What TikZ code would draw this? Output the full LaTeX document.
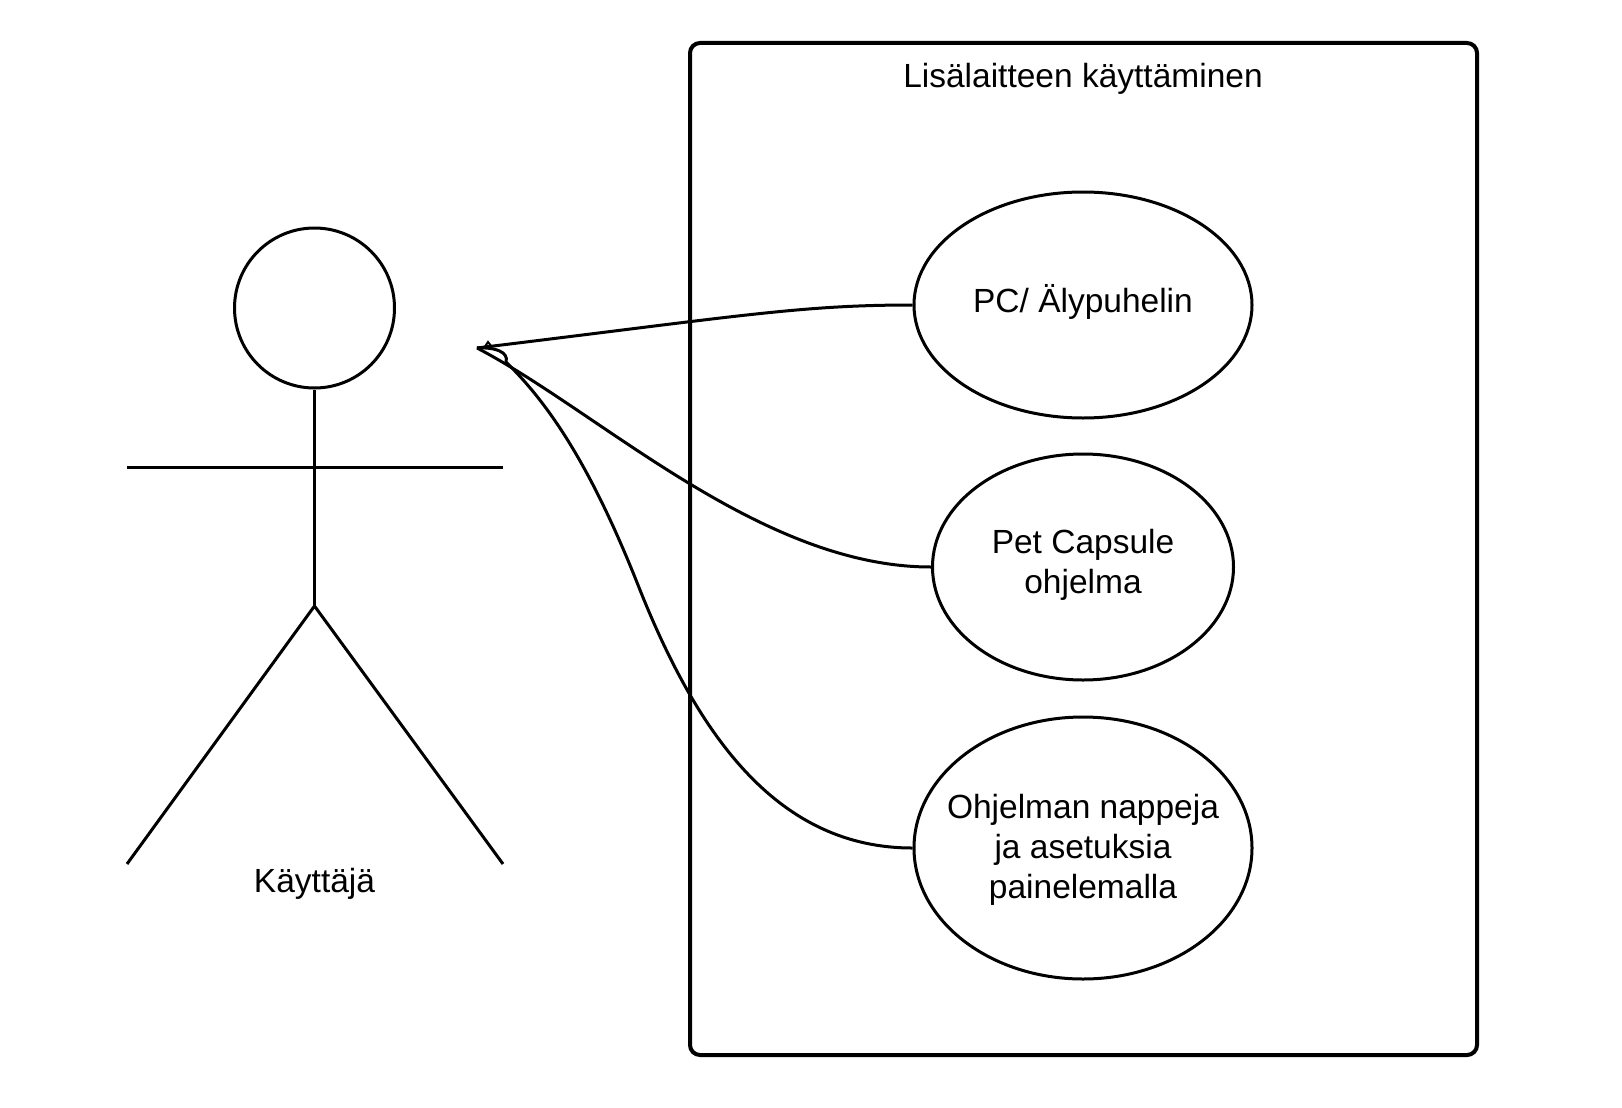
\documentclass[tikz,border=0pt]{standalone}
\usepackage{fontspec}
\setmainfont{Liberation Sans}
\usetikzlibrary{shapes.geometric}
\begin{document}
\begin{tikzpicture}[x=1pt,y=-1pt,
  usecase/.style={draw,ellipse,line width=3pt,inner sep=0pt},
  conn/.style={line width=3pt,line join=round},
  stick/.style={line width=3pt,line join=round},
  lbl/.style={font=\fontsize{33.5}{40}\selectfont,align=center,inner sep=0pt}]
\useasboundingbox (0,0) rectangle (1622,1108);
% system boundary
\draw[line width=4pt,rounded corners=10pt] (690,43) rectangle (1477,1055);
\node[lbl,anchor=base] (title) at (1083,88) {Lisälaitteen käyttäminen};
% actor
\node[draw,circle,line width=3pt,minimum size=160pt,inner sep=0pt] (head) at (314.5,308) {};
\coordinate (hip) at (314.5,606);
\draw[stick] (head.south) -- (hip);
\draw[stick] (127,467.5) -- (503,467.5);
\draw[stick] (127,864) -- (hip) -- (503,864);
\node[lbl,anchor=base] (actor) at (314.5,892.7) {Käyttäjä};
% use cases
\node[usecase,minimum width=338pt,minimum height=226pt] (e1) at (1083,305) {};
\node[usecase,minimum width=301pt,minimum height=226pt] (e2) at (1083,567) {};
\node[usecase,minimum width=338pt,minimum height=262pt] (e3) at (1083,848) {};
\node[lbl,anchor=base] (t1) at ([yshift=-7.5pt]e1.center) {PC/ Älypuhelin};
\node[lbl] (t2) at ([yshift=2pt]e2.center) {Pet Capsule\\ohjelma};
\node[lbl] (t3) at ([yshift=-2pt]e3.center) {Ohjelman nappeja\\ja asetuksia\\painelemalla};
% connectors
\coordinate (tip) at (477,348);
\draw[conn] (tip) .. controls (740,316) and (800,305) .. (e1.west);
\draw[conn] (tip) .. controls (600,412) and (760,567) .. (e2.west);
\draw[conn] (tip) .. controls (495,347) and (509,352) .. (506,362)
  .. controls (550,405) and (592,468) .. (640,590)
  .. controls (700,740) and (780,848) .. (e3.west);
\draw[line width=2pt] (484,348) -- (488,342) -- (492,347);
\end{tikzpicture}
\end{document}
